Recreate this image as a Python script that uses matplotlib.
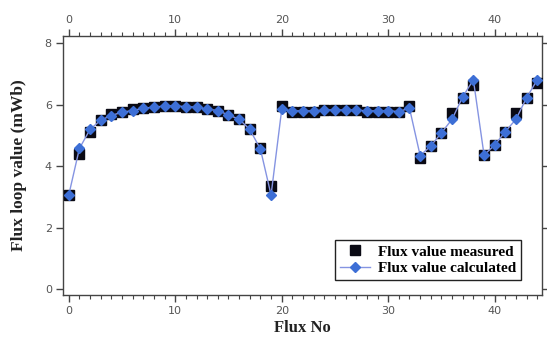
import matplotlib
matplotlib.use("Agg")
import matplotlib.pyplot as plt
from matplotlib.ticker import MultipleLocator

flux_no = list(range(45))
measured = [3.07, 4.40, 5.13, 5.50, 5.70, 5.76, 5.86, 5.89, 5.92, 5.96,
            5.96, 5.94, 5.92, 5.86, 5.81, 5.67, 5.53, 5.20, 4.58, 3.36,
            5.96, 5.75, 5.75, 5.75, 5.83, 5.83, 5.83, 5.83, 5.78, 5.78,
            5.78, 5.75, 5.96, 4.26, 4.66, 5.09, 5.72, 6.21, 6.64, 4.37,
            4.69, 5.13, 5.74, 6.23, 6.70]
calculated = [3.07, 4.58, 5.20, 5.50, 5.65, 5.76, 5.81, 5.89, 5.92, 5.96,
              5.96, 5.94, 5.92, 5.86, 5.81, 5.67, 5.53, 5.20, 4.56, 3.07,
              5.85, 5.80, 5.80, 5.80, 5.83, 5.83, 5.83, 5.83, 5.80, 5.80,
              5.80, 5.78, 5.89, 4.35, 4.66, 5.09, 5.53, 6.26, 6.81, 4.37,
              4.69, 5.13, 5.53, 6.23, 6.81]
x_ticks = [0, 10, 20, 30, 40]
y_ticks = [0, 2, 4, 6, 8]

fig = plt.figure(figsize=(5.47, 3.44), dpi=100)
ax = fig.add_axes([0.115, 0.1424, 0.875, 0.7526])

ax.plot(flux_no, measured, linestyle="none", marker="s", markersize=7,
        color="#0a0a14", label="Flux value measured", zorder=3)
ax.plot(flux_no, calculated, linestyle="-", color="#8594e2", linewidth=1,
        marker="D", markersize=5, markerfacecolor="#3d6fd6",
        markeredgecolor="#3d6fd6", label="Flux value calculated", zorder=4)

ax.set_xlim(-0.55, 44.4)
ax.set_ylim(-0.18, 8.23)
ax.set_xticks(x_ticks)
ax.set_yticks(y_ticks)
ax.xaxis.set_minor_locator(MultipleLocator(1))

tick_col = "#555555"
ax.tick_params(axis="x", which="both", direction="out", top=True,
               labeltop=True, bottom=True, labelbottom=True,
               labelsize=8, labelcolor=tick_col, color="#444444", pad=3)
ax.tick_params(axis="y", which="both", direction="out", left=True,
               right=True, labelright=False, labelsize=8,
               labelcolor=tick_col, color="#444444", pad=3)
ax.tick_params(which="major", length=5, width=1)
ax.tick_params(which="minor", length=3, width=0.8)
for s in ax.spines.values():
    s.set_color("#444444")
    s.set_linewidth(1)

serif = ["Liberation Serif", "DejaVu Serif"]
ax.set_xlabel("Flux No", fontsize=12, fontweight="bold", family=serif,
              color="#222222", labelpad=3)
ax.set_ylabel("Flux loop value (mWb)", fontsize=12.5, fontweight="bold",
              family=serif, color="#222222")
ax.yaxis.set_label_coords(-0.076, 0.5)

leg = ax.legend(loc="lower right", bbox_to_anchor=(0.957, 0.058),
                prop={"family": serif, "weight": "bold", "size": 11},
                frameon=True, fancybox=False, edgecolor="#222222",
                framealpha=1, borderpad=0.3, handlelength=2.0,
                handletextpad=0.5, labelspacing=0.2, borderaxespad=0.0)
leg.get_frame().set_linewidth(1)

fig.savefig("out.png", dpi=100)
